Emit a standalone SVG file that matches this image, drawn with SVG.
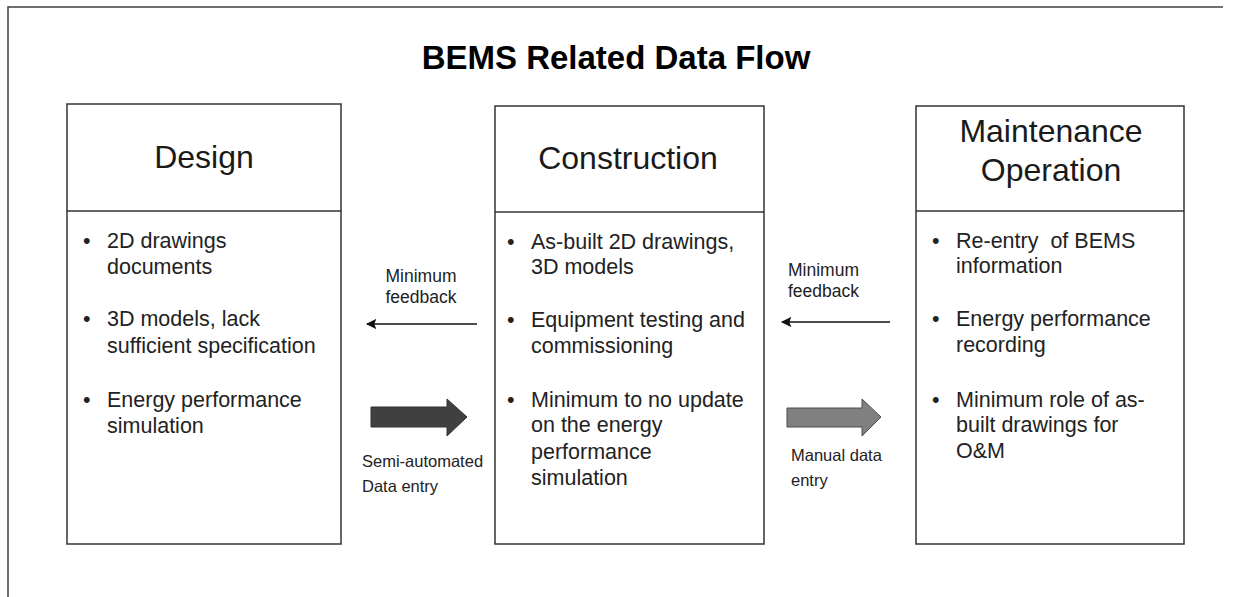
<svg xmlns="http://www.w3.org/2000/svg" width="1233" height="597" viewBox="0 0 1233 597">
  <style>
    text { font-family: "Liberation Sans", Arial, sans-serif; fill: #1a1a1a; white-space: pre; }
    .title { font-size: 33px; font-weight: bold; text-anchor: middle; fill: #000; }
    .head { font-size: 32px; text-anchor: middle; }
    .body { font-size: 21.5px; fill: #222; }
    .lbl { font-size: 17.5px; fill: #222; }
    .lbl2 { font-size: 16.5px; fill: #222; }
    .box { fill: #fff; stroke: #333; stroke-width: 1.5; }
    .frame { fill: none; stroke: #404040; stroke-width: 1.5; }
    .thin { stroke: #111; stroke-width: 1.6; fill: none; marker-start: url(#tip); }
  </style>
  <defs>
    <marker id="tip" viewBox="0 0 10 10" refX="1" refY="5" markerWidth="8" markerHeight="6.5" orient="auto" markerUnits="strokeWidth">
      <path d="M10,0 L0,5 L10,10 L8,5 Z" fill="#111"/>
    </marker>
  </defs>

  <rect width="1233" height="597" fill="#fff"/>
  <!-- outer frame: only left and top edges -->
  <path class="frame" d="M8,597 L8,7 L1223,7"/>

  <text class="title" x="616" y="69">BEMS Related Data Flow</text>

  <g id="design">
    <rect class="box" x="67" y="104" width="274" height="440"/>
    <line class="box" x1="67" y1="211" x2="341" y2="211"/>
    <text class="head" x="204" y="168">Design</text>
    <text class="body" x="83" y="248">•</text>
    <text class="body" x="107" y="248">2D drawings</text>
    <text class="body" x="107" y="274">documents</text>
    <text class="body" x="83" y="326">•</text>
    <text class="body" x="107" y="326">3D models, lack</text>
    <text class="body" x="107" y="353">sufficient specification</text>
    <text class="body" x="83" y="407">•</text>
    <text class="body" x="107" y="407">Energy performance</text>
    <text class="body" x="107" y="433">simulation</text>
  </g>

  <g id="construction">
    <rect class="box" x="495" y="106" width="269" height="438"/>
    <line class="box" x1="495" y1="212" x2="764" y2="212"/>
    <text class="head" x="628" y="169">Construction</text>
    <text class="body" x="507" y="249">•</text>
    <text class="body" x="531" y="249">As-built 2D drawings,</text>
    <text class="body" x="531" y="274">3D models</text>
    <text class="body" x="507" y="327">•</text>
    <text class="body" x="531" y="327">Equipment testing and</text>
    <text class="body" x="531" y="353">commissioning</text>
    <text class="body" x="507" y="407">•</text>
    <text class="body" x="531" y="407">Minimum to no update</text>
    <text class="body" x="531" y="432">on the energy</text>
    <text class="body" x="531" y="459">performance</text>
    <text class="body" x="531" y="485">simulation</text>
  </g>

  <g id="maintenance">
    <rect class="box" x="916" y="106" width="268" height="438"/>
    <line class="box" x1="916" y1="211" x2="1184" y2="211"/>
    <text class="head" x="1051" y="142">Maintenance</text>
    <text class="head" x="1051" y="181">Operation</text>
    <text class="body" x="932" y="248">•</text>
    <text class="body" x="956" y="248">Re-entry  of BEMS</text>
    <text class="body" x="956" y="273">information</text>
    <text class="body" x="932" y="326">•</text>
    <text class="body" x="956" y="326">Energy performance</text>
    <text class="body" x="956" y="352">recording</text>
    <text class="body" x="932" y="407">•</text>
    <text class="body" x="956" y="407">Minimum role of as-</text>
    <text class="body" x="956" y="432">built drawings for</text>
    <text class="body" x="956" y="458">O&amp;M</text>
  </g>

  <g id="connectors">
    <!-- feedback: construction to design -->
    <line class="thin" x1="367" y1="324" x2="477" y2="324"/>
    <text class="lbl" x="421" y="282" text-anchor="middle">Minimum</text>
    <text class="lbl" x="421" y="303" text-anchor="middle">feedback</text>
    <!-- semi-automated entry: design to construction -->
    <polygon points="371,407 447,407 447,399 467,417 447,436 447,427 371,427" fill="#404040" stroke="#333" stroke-width="1"/>
    <text class="lbl2" x="362" y="467">Semi-automated</text>
    <text class="lbl2" x="362" y="492">Data entry</text>

    <!-- feedback: maintenance to construction -->
    <line class="thin" x1="782" y1="322" x2="890" y2="322"/>
    <text class="lbl" x="788" y="276">Minimum</text>
    <text class="lbl" x="788" y="297">feedback</text>
    <!-- manual entry: construction to maintenance -->
    <polygon points="787,408 862,408 862,399 881,417 862,436 862,427 787,427" fill="#808080" stroke="#4d4d4d" stroke-width="1"/>
    <text class="lbl2" x="791" y="461">Manual data</text>
    <text class="lbl2" x="791" y="486">entry</text>
  </g>
</svg>
